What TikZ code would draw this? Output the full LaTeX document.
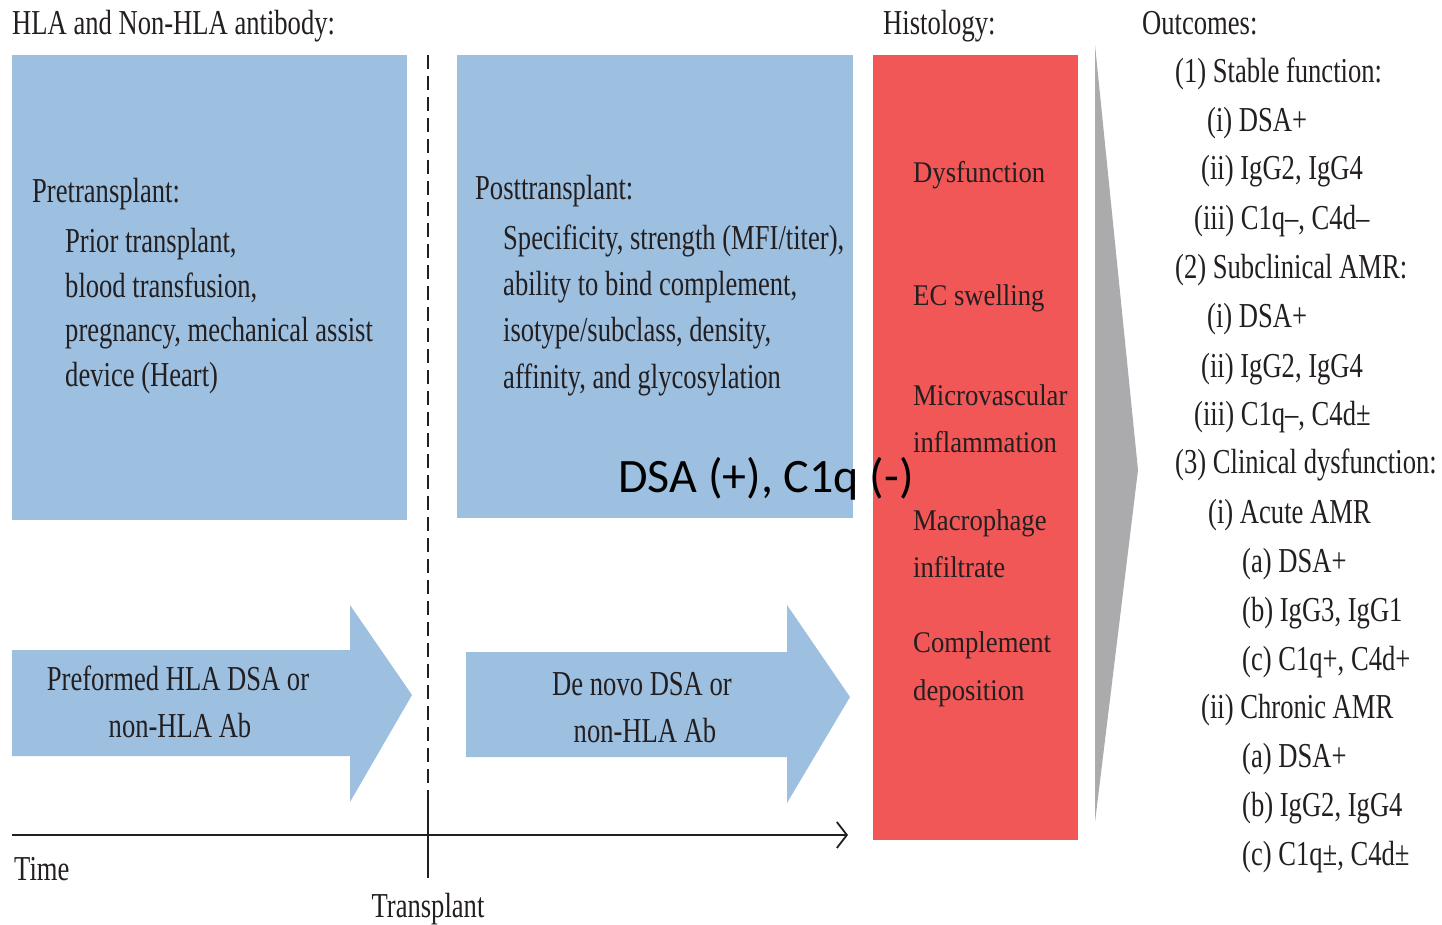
\documentclass[tikz,border=0pt]{standalone}
\usepackage{fontspec}
\setmainfont{Liberation Serif}[FakeStretch=0.76]
\newfontfamily\histfont{Liberation Serif}[FakeStretch=0.89]
\newfontfamily\calfont{Carlito}
\usetikzlibrary{arrows.meta}
\definecolor{boxblue}{HTML}{9DBFE0}
\definecolor{boxred}{HTML}{F15757}
\definecolor{wedgegray}{HTML}{ABABAD}
\definecolor{ink}{HTML}{231F20}
\tikzset{
  txt/.style={anchor=base west, inner sep=0pt, text=ink, font=\fontsize{35}{42}\selectfont},
  ctxt/.style={txt, anchor=base},
  hist/.style={anchor=base west, inner sep=0pt, text=ink, font=\histfont\fontsize{30}{36}\selectfont},
  bluefill/.style={fill=boxblue},
}
\begin{document}
\begin{tikzpicture}[x=1pt,y=-1pt]
\useasboundingbox (0,0) rectangle (1442,925);
% boxes
\fill[bluefill] (12,55) rectangle (407,520);
\fill[bluefill] (457,55) rectangle (853,518);
\fill[boxred] (873,55) rectangle (1078,840);
\fill[wedgegray] (1095,45) -- (1138,470) -- (1095,822) -- cycle;
% block arrows
\fill[bluefill] (12,650) -- (350,650) -- (350,605) -- (412,695) -- (350,802) -- (350,756) -- (12,756) -- cycle;
\fill[bluefill] (466,652) -- (787,652) -- (787,605) -- (850,697) -- (787,803) -- (787,757) -- (466,757) -- cycle;
% transplant line and time axis
\coordinate (tptop) at (428,55);
\coordinate (tpmid) at (428,790);
\coordinate (tpbot) at (428,878);
\coordinate (t0) at (12,835);
\coordinate (t1) at (848,835);
\draw[ink, line width=1.2pt, dash pattern=on 14pt off 7pt] (tptop) -- (tpmid);
\draw[ink, line width=1.2pt] (tpmid) -- (tpbot);
\draw[ink, line width=1.8pt, -{Straight Barb[length=10pt,width=26pt,line width=1.8pt]}] (t0) -- (t1);
% headings
\node[txt] (h1) at (12,35) {HLA and Non-HLA antibody:};
\node[txt] (h2) at (883,35) {Histology:};
\node[txt] (h3) at (1142,35) {Outcomes:};
% pretransplant
\node[txt] (p0) at (32,203) {Pretransplant:};
\node[txt] (p1) at (65,253) {Prior transplant,};
\node[txt] (p2) at (65,297) {blood transfusion,};
\node[txt] (p3) at (65,341) {pregnancy, mechanical assist};
\node[txt] (p4) at (65,386) {device (Heart)};
% posttransplant
\node[txt] (q0) at (475,200) {Posttransplant:};
\node[txt] (q1) at (503,250) {Specificity, strength (MFI/titer),};
\node[txt] (q2) at (503,295) {ability to bind complement,};
\node[txt] (q3) at (503,341) {isotype/subclass, density,};
\node[txt] (q4) at (503,388) {affinity, and glycosylation};
% arrow texts
\node[ctxt] (a1) at (178,690) {Preformed HLA DSA or};
\node[ctxt] (a2) at (180,737) {non-HLA Ab};
\node[ctxt] (b1) at (642,695) {De novo DSA or};
\node[ctxt] (b2) at (645,742) {non-HLA Ab};
% axis labels
\node[txt] (time) at (14,880) {Time};
\node[ctxt] (tpl) at (428,917) {Transplant};
% histology
\node[hist] (r1) at (913,183) {Dysfunction};
\node[hist] (r2) at (913,305) {EC swelling};
\node[hist] (r3) at (913,405) {Microvascular};
\node[hist] (r4) at (913,452) {inflammation};
\node[hist] (r5) at (913,530) {Macrophage};
\node[hist] (r6) at (913,577) {infiltrate};
\node[hist] (r7) at (913,652) {Complement};
\node[hist] (r8) at (913,700) {deposition};
% outcomes
\node[txt] (o1) at (1175,83) {(1) Stable function:};
\node[txt] (o2) at (1207,132) {(i) DSA+};
\node[txt] (o3) at (1201,180) {(ii) IgG2, IgG4};
\node[txt] (o4) at (1194,230) {(iii) C1q–, C4d–};
\node[txt] (o5) at (1175,278) {(2) Subclinical AMR:};
\node[txt] (o6) at (1207,327) {(i) DSA+};
\node[txt] (o7) at (1201,377) {(ii) IgG2, IgG4};
\node[txt] (o8) at (1194,425) {(iii) C1q–, C4d±};
\node[txt] (o9) at (1175,473) {(3) Clinical dysfunction:};
\node[txt] (o10) at (1208,523) {(i) Acute AMR};
\node[txt] (o11) at (1242,572) {(a) DSA+};
\node[txt] (o12) at (1242,621) {(b) IgG3, IgG1};
\node[txt] (o13) at (1242,670) {(c) C1q+, C4d+};
\node[txt] (o14) at (1201,718) {(ii) Chronic AMR};
\node[txt] (o15) at (1242,767) {(a) DSA+};
\node[txt] (o16) at (1242,816) {(b) IgG2, IgG4};
\node[txt] (o17) at (1242,865) {(c) C1q±, C4d±};
% overlay label
\node[anchor=base west, inner sep=0pt, text=black, font=\calfont\fontsize{48}{56}\selectfont] (dsa) at (618,492) {DSA (+), C1q (-)};
\end{tikzpicture}
\end{document}
